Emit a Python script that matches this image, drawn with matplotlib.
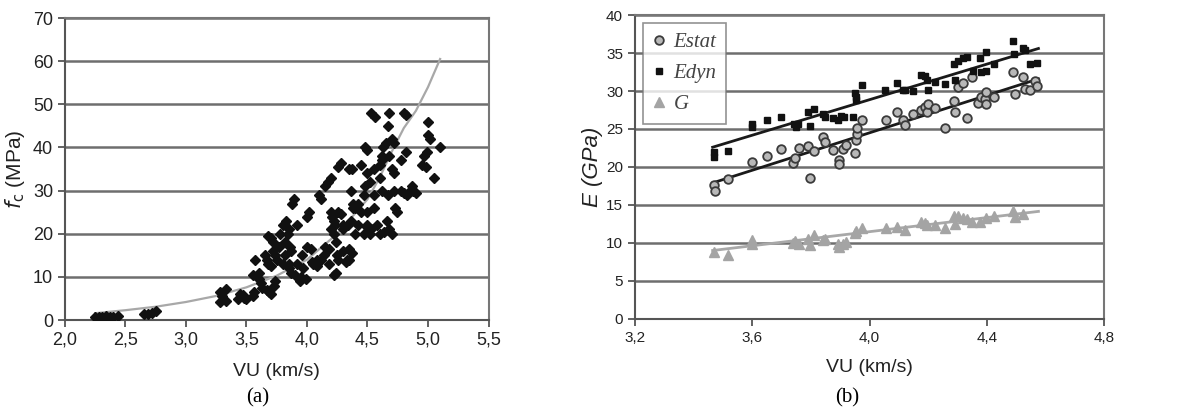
import matplotlib.pyplot as plt

plt.rcParams['font.family'] = ['Liberation Sans', 'DejaVu Sans']

# (a) f_c contra VU
vu_a = [2.25, 2.28, 2.31, 2.34, 2.37, 2.40, 2.44,
        2.65, 2.69, 2.72, 2.75,
        3.28, 3.28, 3.33, 3.33, 3.30,
        3.43, 3.45, 3.48, 3.50, 3.47,
        3.55, 3.56, 3.57, 3.55, 3.60, 3.60, 3.62, 3.63,
        3.65, 3.67, 3.68, 3.67, 3.69, 3.70, 3.68, 3.70, 3.72, 3.70, 3.72, 3.74, 3.75, 3.73, 3.74,
        3.77, 3.78, 3.80, 3.82, 3.83, 3.84, 3.85, 3.86, 3.87, 3.88, 3.89, 3.80, 3.82, 3.85, 3.87, 3.90, 3.85,
        3.92, 3.92, 3.94, 3.95, 3.96, 3.97, 3.99, 4.00, 4.02, 4.00, 4.03, 4.04, 4.05, 4.07, 4.08, 4.10, 4.12, 4.08,
        4.12, 4.14, 4.15, 4.17, 4.18, 4.15, 4.18, 4.20, 4.22, 4.24, 4.20, 4.21, 4.22, 4.23, 4.22, 4.24, 4.25, 4.26, 4.20,
        4.26, 4.28, 4.26, 4.28, 4.30, 4.30, 4.30, 4.32, 4.33, 4.35, 4.35, 4.37, 4.36, 4.34, 4.36, 4.38, 4.38, 4.35, 4.37,
        4.40, 4.42, 4.45, 4.40, 4.42, 4.45, 4.48, 4.50, 4.47, 4.48, 4.50, 4.50, 4.50, 4.47, 4.52, 4.53, 4.55, 4.52, 4.55,
        4.53, 4.56, 4.55, 4.50,
        4.58, 4.60, 4.60, 4.62, 4.60, 4.62, 4.63, 4.65, 4.62, 4.67, 4.64, 4.66, 4.68, 4.70, 4.68, 4.67, 4.70, 4.72,
        4.68, 4.70, 4.72, 4.73, 4.74, 4.72,
        4.80, 4.82, 4.78, 4.82, 4.78, 4.80, 4.85, 4.87, 4.88, 4.90, 4.83,
        4.95, 4.97, 4.98, 5.00, 5.00, 5.02, 5.05, 5.10, 4.99]
fc_a = [0.7, 0.8, 0.7, 0.9, 0.8, 0.8, 1.0,
        1.4, 1.5, 1.6, 2.0,
        6.5, 4.3, 7.1, 4.5, 5.5,
        5.0, 6.0, 5.2, 4.8, 5.8,
        5.5, 6.5, 14.0, 10.5, 9.5, 11.0, 8.5, 7.5,
        15.0, 14.0, 13.0, 7.0, 6.5, 6.0, 19.5, 19.0, 18.0, 12.5, 16.0, 15.0, 14.0, 8.0, 9.0,
        17.0, 20.0, 22.0, 18.0, 23.0, 20.0, 21.0, 17.0, 16.0, 27.0, 28.0, 13.0, 15.0, 13.0, 11.0, 10.5, 12.0,
        22.0, 13.0, 9.0, 10.0, 15.0, 12.0, 9.5, 24.0, 25.0, 17.0, 16.5, 13.5, 13.0, 13.0, 14.0, 29.0, 28.0, 12.5,
        14.0, 15.0, 31.0, 32.0, 13.0, 17.0, 16.5, 33.0, 10.5, 11.0, 25.0, 24.0, 23.0, 22.0, 20.0, 18.0, 15.0, 14.0, 21.0,
        35.5, 36.5, 25.0, 24.5, 22.0, 21.0, 16.0, 13.5, 14.0, 16.5, 35.0, 35.0, 30.0, 22.0, 23.0, 26.0, 27.0, 14.0, 15.5,
        26.0, 27.0, 25.0, 20.0, 22.0, 36.0, 40.0, 39.5, 29.0, 31.0, 34.0, 25.0, 22.0, 20.0, 20.0, 21.0, 26.0, 32.0, 35.0,
        48.0, 47.0, 29.0, 21.5,
        22.0, 20.0, 36.0, 37.0, 33.0, 38.0, 40.0, 41.0, 30.0, 29.0, 20.5, 23.0, 21.0, 20.0, 48.0, 45.0, 42.0, 41.0,
        38.0, 35.0, 34.0, 26.0, 25.0, 30.0,
        48.0, 47.5, 37.0, 39.0, 30.0, 29.5, 30.0, 31.0, 30.0, 29.5, 29.0,
        36.0, 38.0, 35.5, 46.0, 43.0, 42.0, 33.0, 40.0, 39.0]

# curva de ajuste
curva_x = [2.25, 2.5, 2.75, 3.0, 3.25, 3.5, 3.75, 4.0, 4.25, 4.5, 4.6, 4.7, 4.8, 4.9, 5.0, 5.1]
curva_y = [1.6, 2.3, 3.1, 4.2, 5.6, 7.6, 10.3, 14.0, 20.0, 28.0, 33.0, 39.0, 44.5, 48.5, 54.0, 60.5]

# (b) modulos contra VU
vu_estat = [3.469, 3.473, 3.518, 3.60, 3.649, 3.697, 3.74, 3.746, 3.76, 3.79, 3.797, 3.81, 3.842, 3.848,
            3.876, 3.897, 3.897, 3.908, 3.92, 3.95, 3.952, 3.956, 3.958, 3.973, 4.056, 4.092, 4.115, 4.12,
            4.147, 4.175, 4.189, 4.194, 4.20, 4.223, 4.257, 4.289, 4.291, 4.302, 4.319, 4.33, 4.348, 4.37,
            4.378, 4.393, 4.397, 4.397, 4.424, 4.49, 4.495, 4.524, 4.53, 4.547, 4.564, 4.569]
estat = [17.6, 16.9, 18.4, 20.6, 21.5, 22.4, 20.5, 21.2, 22.5, 22.8, 18.6, 22.1, 24.0, 23.3,
         22.3, 20.9, 20.4, 22.4, 22.9, 21.8, 23.5, 24.4, 25.1, 26.2, 26.2, 27.3, 26.2, 25.5,
         27.0, 27.5, 27.9, 27.3, 28.3, 27.7, 25.1, 28.7, 27.3, 30.5, 31.0, 26.5, 31.9, 28.4,
         29.2, 28.9, 29.9, 28.3, 29.2, 32.5, 29.6, 31.9, 30.3, 30.1, 31.3, 30.7]

vu_edyn = [3.469, 3.47, 3.518, 3.60, 3.60, 3.649, 3.697, 3.742, 3.749, 3.757, 3.791, 3.797, 3.81, 3.842,
           3.848, 3.876, 3.893, 3.901, 3.913, 3.944, 3.95, 3.952, 3.953, 3.973, 4.052, 4.092, 4.115, 4.12,
           4.147, 4.175, 4.189, 4.194, 4.20, 4.223, 4.257, 4.289, 4.291, 4.302, 4.319, 4.33, 4.353, 4.376,
           4.378, 4.397, 4.397, 4.424, 4.49, 4.493, 4.524, 4.53, 4.547, 4.569]
edyn = [22.0, 21.3, 22.1, 25.6, 25.3, 26.2, 26.6, 25.6, 25.3, 25.6, 27.3, 25.4, 27.6, 27.0,
        26.6, 26.5, 26.2, 26.7, 26.6, 26.6, 29.7, 29.2, 28.8, 30.8, 30.1, 31.0, 30.2, 30.1,
        30.0, 32.1, 32.0, 31.5, 30.2, 31.2, 30.9, 33.6, 31.4, 34.0, 34.3, 34.5, 32.7, 34.4,
        32.5, 32.7, 35.2, 33.5, 36.6, 34.9, 35.7, 35.4, 33.6, 33.7]

vu_g = [3.469, 3.518, 3.60, 3.60, 3.74, 3.746, 3.76, 3.791, 3.797, 3.81, 3.842, 3.848, 3.893, 3.897,
        3.908, 3.92, 3.95, 3.953, 3.973, 4.056, 4.092, 4.12, 4.175, 4.189, 4.194, 4.223, 4.257, 4.289,
        4.291, 4.302, 4.319, 4.33, 4.348, 4.376, 4.397, 4.424, 4.49, 4.495, 4.524]
g = [8.8, 8.4, 10.4, 9.8, 10.0, 10.3, 9.9, 10.5, 9.7, 11.0, 10.4, 10.5, 9.9, 9.5,
     9.8, 10.1, 11.3, 11.6, 12.0, 12.0, 12.1, 11.7, 12.7, 12.6, 12.4, 12.3, 12.0, 13.5,
     12.5, 13.6, 13.3, 13.2, 12.7, 12.7, 13.3, 13.6, 14.2, 13.4, 13.8]

# rectas de ajuste (extremos)
recta_x = [3.465, 4.575]
recta_estat = [17.9, 31.6]
recta_edyn = [22.6, 35.6]
recta_g = [9.0, 14.15]

fig = plt.figure(figsize=(11.8, 4.19), dpi=100)
ax1 = fig.add_axes([0.055, 0.236, 0.359, 0.721])
ax2 = fig.add_axes([0.538, 0.239, 0.398, 0.725])

def estilo(ax, fs):
    ax.grid(axis='y', color='#6e6e6e', linewidth=1.8)
    ax.set_axisbelow(True)
    for s in ax.spines.values():
        s.set_color('#777777')
        s.set_linewidth(1.5)
    ax.spines['left'].set_color('#555555')
    ax.spines['bottom'].set_color('#555555')
    ax.tick_params(direction='out', length=5, width=1.3, color='#555555', labelsize=fs, labelcolor='#222222')

# panel (a)
ax1.plot(curva_x, curva_y, color='#a8a8a8', linewidth=1.6, zorder=2)
ax1.plot(vu_a, fc_a, 'D', color='#111111', markersize=5, linestyle='none', zorder=3)
ax1.set_xlim(2.0, 5.5)
ax1.set_ylim(0, 70)
ax1.set_xticks([2.0, 2.5, 3.0, 3.5, 4.0, 4.5, 5.0, 5.5])
ax1.set_xticklabels(['2,0', '2,5', '3,0', '3,5', '4,0', '4,5', '5,0', '5,5'])
ax1.set_yticks(range(0, 71, 10))
estilo(ax1, 13)
ax1.set_xlabel('VU (km/s)', fontsize=14, color='#222222', labelpad=10)
ax1.set_ylabel(r'$f_{\mathrm{c}}$ (MPa)', fontsize=15, color='#222222', labelpad=4)

# panel (b)
ax2.plot(recta_x, recta_edyn, color='#1a1a1a', linewidth=2, zorder=2)
ax2.plot(recta_x, recta_estat, color='#1a1a1a', linewidth=2, zorder=2)
ax2.plot(recta_x, recta_g, color='#a8a8a8', linewidth=2, zorder=2)
ax2.plot(vu_estat, estat, 'o', markerfacecolor='#b8b8b8', markeredgecolor='#3a3a3a',
         markeredgewidth=1.3, markersize=6.2, linestyle='none', label='Estat', zorder=3)
ax2.plot(vu_edyn, edyn, 's', color='#111111', markersize=4, linestyle='none', label='Edyn', zorder=4)
ax2.plot(vu_g, g, '^', color='#a4a4a4', markersize=7, linestyle='none', label='G', zorder=3)
ax2.set_xlim(3.2, 4.8)
ax2.set_ylim(0, 40)
ax2.set_xticks([3.2, 3.6, 4.0, 4.4, 4.8])
ax2.set_xticklabels(['3,2', '3,6', '4,0', '4,4', '4,8'])
ax2.set_yticks(range(0, 41, 5))
estilo(ax2, 11)
ax2.set_xlabel('VU (km/s)', fontsize=14, color='#222222', labelpad=10)
ax2.set_ylabel('E (GPa)', fontsize=16, fontstyle='italic', color='#222222', labelpad=2)
leg = ax2.legend(loc='upper left', prop={'family': 'Liberation Serif', 'style': 'italic', 'size': 15},
                 frameon=True, fancybox=False, edgecolor='#777777', handlelength=0.6,
                 handletextpad=0.4, borderpad=0.45, labelspacing=0.55, borderaxespad=0.4)
leg.get_frame().set_linewidth(1.2)
for t in leg.get_texts():
    t.set_color('#444444')

fig.text(0.218, 0.05, '(a)', fontsize=15, family='Liberation Serif', ha='center', va='center')
fig.text(0.718, 0.05, '(b)', fontsize=15, family='Liberation Serif', ha='center', va='center')

fig.savefig('out.png', dpi=100)
